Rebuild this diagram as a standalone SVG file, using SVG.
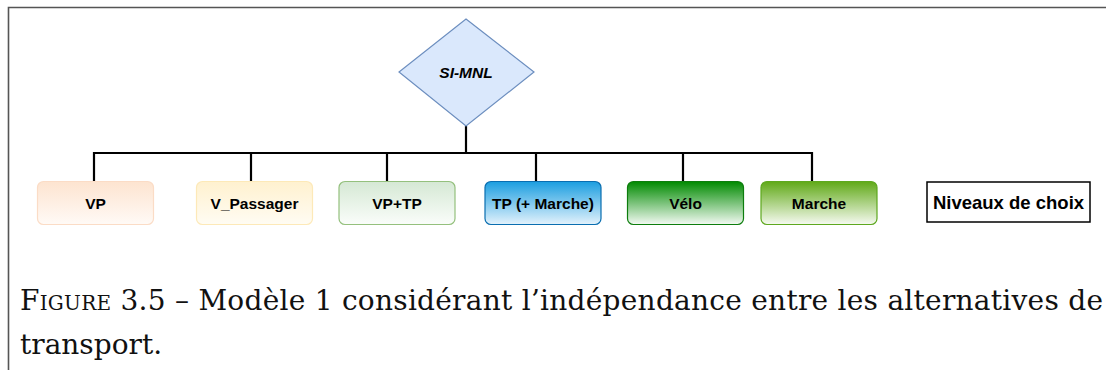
<svg xmlns="http://www.w3.org/2000/svg" width="1106" height="370" viewBox="0 0 1106 370">
<style>
.lbl{font-family:"Liberation Sans",Arial,sans-serif;font-weight:bold;font-size:15.5px;fill:#000;text-anchor:middle;dominant-baseline:central}
.box{stroke-width:1.2}
.con{stroke:#000;stroke-width:2.2;fill:none}
.cap{font-family:"DejaVu Serif","Liberation Serif",serif;font-size:28px;fill:#111}
</style>
<defs>
<linearGradient id="gVP" x1="0" y1="0" x2="0" y2="1"><stop offset="0" stop-color="#fde4d0"/><stop offset="1" stop-color="#fffaf6"/></linearGradient>
<linearGradient id="gVPa" x1="0" y1="0" x2="0" y2="1"><stop offset="0" stop-color="#fff1cf"/><stop offset="1" stop-color="#fffcf3"/></linearGradient>
<linearGradient id="gVT" x1="0" y1="0" x2="0" y2="1"><stop offset="0" stop-color="#d5e8d4"/><stop offset="1" stop-color="#fafdfa"/></linearGradient>
<linearGradient id="gTP" x1="0" y1="0" x2="0" y2="1"><stop offset="0" stop-color="#1b9ee0"/><stop offset="1" stop-color="#e3f2fc"/></linearGradient>
<linearGradient id="gVe" x1="0" y1="0" x2="0" y2="1"><stop offset="0" stop-color="#008a00"/><stop offset="1" stop-color="#f3faf3"/></linearGradient>
<linearGradient id="gMa" x1="0" y1="0" x2="0" y2="1"><stop offset="0" stop-color="#60a917"/><stop offset="1" stop-color="#f6faf1"/></linearGradient>
</defs>
<rect width="1106" height="370" fill="#fff"/>
<path d="M8.5 370 V7.5 H1106" fill="none" stroke="#555" stroke-width="1.6"/>

<g id="connectors">
<path class="con" d="M466 126 V153"/>
<path class="con" d="M94 181 V153 H812 V181"/>
<path class="con" d="M251 153 V181"/>
<path class="con" d="M387 153 V181"/>
<path class="con" d="M536 153 V181"/>
<path class="con" d="M683 153 V181"/>
</g>

<g id="si-mnl">
<polygon points="466,19 534,72 466,126 399,72" fill="#dae8fc" stroke="#6c8ebf" stroke-width="1.2"/>
<text class="lbl" x="466" y="72" font-style="italic">SI-MNL</text>
</g>

<g id="vp">
<rect class="box" x="37.5" y="181.5" width="116" height="43" rx="6" fill="url(#gVP)" stroke="#fbdcc6"/>
<text class="lbl" x="95.5" y="203">VP</text>
</g>
<g id="v-passager">
<rect class="box" x="196.5" y="181.5" width="116" height="43" rx="6" fill="url(#gVPa)" stroke="#fde9b8"/>
<text class="lbl" x="254.5" y="203">V_Passager</text>
</g>
<g id="vp-tp">
<rect class="box" x="339" y="181.5" width="116" height="43" rx="6" fill="url(#gVT)" stroke="#94c07d"/>
<text class="lbl" x="397" y="203">VP+TP</text>
</g>
<g id="tp">
<rect class="box" x="485" y="181.5" width="116" height="43" rx="6" fill="url(#gTP)" stroke="#0a6eb0"/>
<text class="lbl" x="543" y="203">TP (+ Marche)</text>
</g>
<g id="velo">
<rect class="box" x="627.5" y="181.5" width="116" height="43" rx="6" fill="url(#gVe)" stroke="#0d7d0d"/>
<text class="lbl" x="685.5" y="203">Vélo</text>
</g>
<g id="marche">
<rect class="box" x="761" y="181.5" width="116" height="43" rx="6" fill="url(#gMa)" stroke="#5ea81f"/>
<text class="lbl" x="819" y="203">Marche</text>
</g>
<g id="niveaux">
<rect x="927" y="182" width="163" height="40" fill="#fff" stroke="#000" stroke-width="1.5"/>
<text class="lbl" x="1008.5" y="202" style="font-size:18.5px">Niveaux de choix</text>
</g>

<g id="caption">
<text class="cap" x="20" y="310" textLength="1083" lengthAdjust="spacing"><tspan font-variant="small-caps">Figure</tspan> 3.5 – Modèle 1 considérant l’indépendance entre les alternatives de</text>
<text class="cap" x="20" y="354">transport.</text>
</g>
</svg>
